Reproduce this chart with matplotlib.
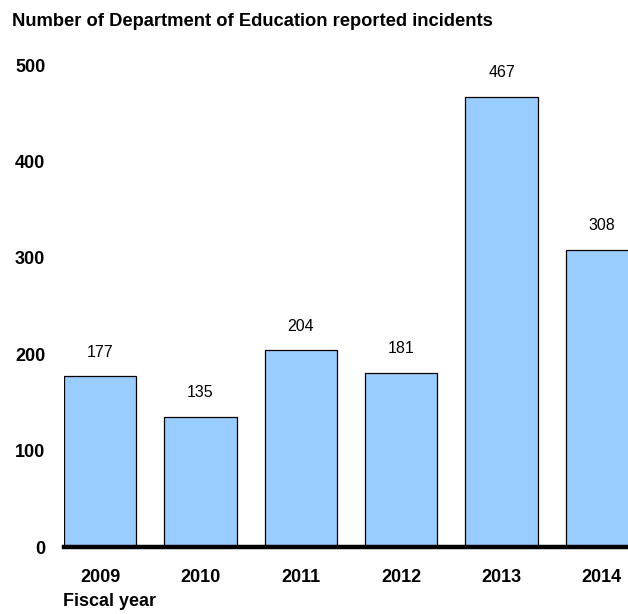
import matplotlib
matplotlib.use("Agg")
import matplotlib.pyplot as plt

plt.rcParams['font.family'] = ['Liberation Sans', 'DejaVu Sans']

years = ['2009', '2010', '2011', '2012', '2013', '2014']
incidents = [177, 135, 204, 181, 467, 308]
yticks = [0, 100, 200, 300, 400, 500]

bar_color = '#99ccff'

fig = plt.figure(figsize=(6.28, 6.14), dpi=100)
ax = fig.add_axes([64 / 628, 67 / 614, 564 / 628, (547 - 65) / 614])

pos = list(range(len(years)))
ax.bar(pos, incidents, width=0.72, color=bar_color, edgecolor='black',
       linewidth=0.9, zorder=2)

for x, v in zip(pos, incidents):
    ax.annotate(str(v), (x, v), xytext=(0, 17.5), textcoords='offset points',
                ha='center', va='center', fontsize=11.5)

ax.set_xlim(-0.36, 5.26)
ax.set_ylim(0, 500)
ax.set_xticks(pos)
ax.set_xticklabels(years, fontsize=13, fontweight='bold')
ax.set_yticks(yticks)
ax.set_yticklabels([str(t) for t in yticks], fontsize=13, fontweight='bold')
ax.tick_params(axis='both', length=0)
ax.tick_params(axis='x', pad=15.5)
ax.tick_params(axis='y', pad=13.5)

for side in ['top', 'right', 'left']:
    ax.spines[side].set_visible(False)
ax.spines['bottom'].set_linewidth(3.2)
ax.spines['bottom'].set_zorder(3)

fig.text(12 / 628, 1 - 21 / 614, 'Number of Department of Education reported incidents',
         fontsize=13.2, fontweight='bold', ha='left', va='center')
fig.text(63 / 628, 1 - 602 / 614, 'Fiscal year', fontsize=13,
         fontweight='bold', ha='left', va='center')

fig.savefig('out.png', dpi=100)
